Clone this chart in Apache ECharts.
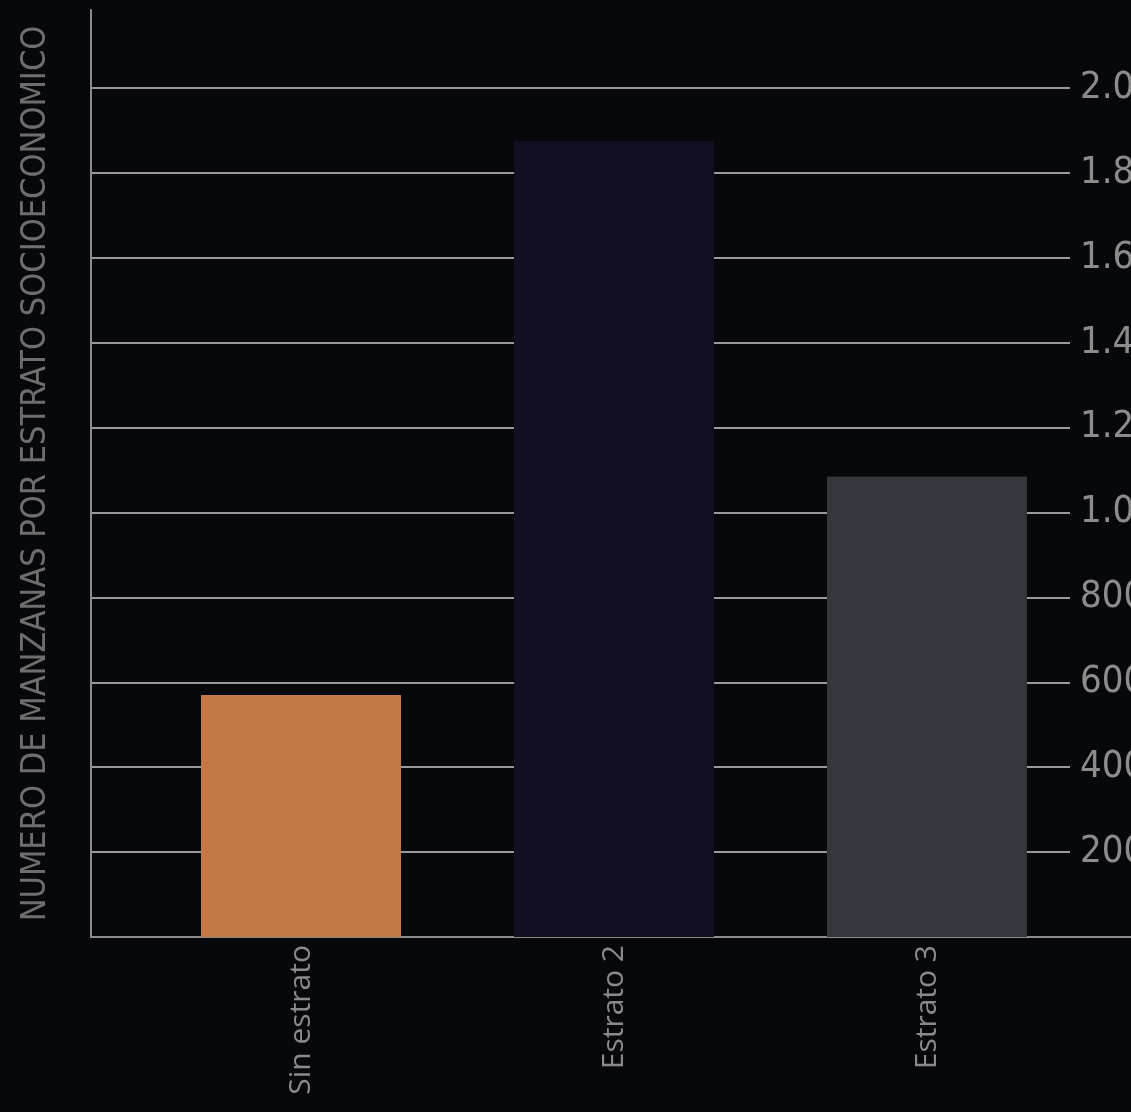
<!DOCTYPE html>
<html>
<head>
<meta charset="utf-8">
<script src="https://cdn.jsdelivr.net/npm/echarts@6/dist/echarts.min.js"></script>
<style>
html,body{margin:0;padding:0;background:#06080b;}
#chart{width:1131px;height:1112px;}
</style>
</head>
<body>
<div id="chart"></div>
<script>
const categories = ['Sin estrato', 'Estrato 2', 'Estrato 3'];
const values = [570, 1875, 1085];
const barColors = ['#c47843', '#110f21', '#33363a'];
const yTickValues = [0, 200, 400, 600, 800, 1000, 1200, 1400, 1600, 1800, 2000];
const yTickLabels = ['', '200', '400', '600', '800', '1.000', '1.200', '1.400', '1.600', '1.800', '2.000'];
const yTitle = 'NUMERO DE MANZANAS POR ESTRATO SOCIOECONOMICO';

const narrow = '"Liberation Sans Narrow", "DejaVu Sans Condensed", sans-serif';
const chart = echarts.init(document.getElementById('chart'));
chart.setOption({
  backgroundColor: '#06080b',
  animation: false,
  grid: [
    { left: 91, right: 61, top: 88, bottom: 175, outerBoundsMode: 'none', containLabel: false },
    { left: 91, right: 0, top: 10, bottom: 175, outerBoundsMode: 'none', containLabel: false }
  ],
  xAxis: [
    {
      gridIndex: 0, type: 'value', min: -0.671, max: 2.457,
      axisLine: { show: false }, axisTick: { show: false }, splitLine: { show: false },
      axisLabel: {
        customValues: [0, 1, 2],
        rotate: 90, margin: 8,
        color: '#8a8a8a', fontSize: 30, fontFamily: '"Open Sans", sans-serif',
        formatter: v => categories[Math.round(v)] || ''
      }
    },
    {
      gridIndex: 1, type: 'value', min: 0, max: 1,
      axisLine: { show: true, lineStyle: { color: '#8c8c8c', width: 2 } },
      axisTick: { show: false }, axisLabel: { show: false }, splitLine: { show: false }
    }
  ],
  yAxis: [
    {
      gridIndex: 0, type: 'value', min: 0, max: 2000, interval: 200, position: 'right',
      axisLine: { show: false }, axisTick: { show: false },
      splitLine: { show: true, lineStyle: { color: '#9a9a9a', width: 2 } },
      axisLabel: {
        margin: 10, color: '#8c8c8c', fontSize: 38, fontFamily: narrow,
        formatter: v => yTickLabels[yTickValues.indexOf(v)] ?? ''
      }
    },
    {
      gridIndex: 1, type: 'value', min: 0, max: 1, position: 'left',
      axisLine: { show: true, lineStyle: { color: '#8c8c8c', width: 2 } },
      axisTick: { show: false }, axisLabel: { show: false }, splitLine: { show: false },
      name: yTitle, nameLocation: 'middle', nameRotate: 90, nameGap: 38,
      nameTextStyle: { color: '#6e6e6e', fontSize: 34, fontFamily: narrow }
    }
  ],
  series: [{
    type: 'bar', xAxisIndex: 0, yAxisIndex: 0, barWidth: 200,
    data: values.map((v, i) => ({ value: [i, v], itemStyle: { color: barColors[i] } }))
  }]
});
</script>
</body>
</html>
